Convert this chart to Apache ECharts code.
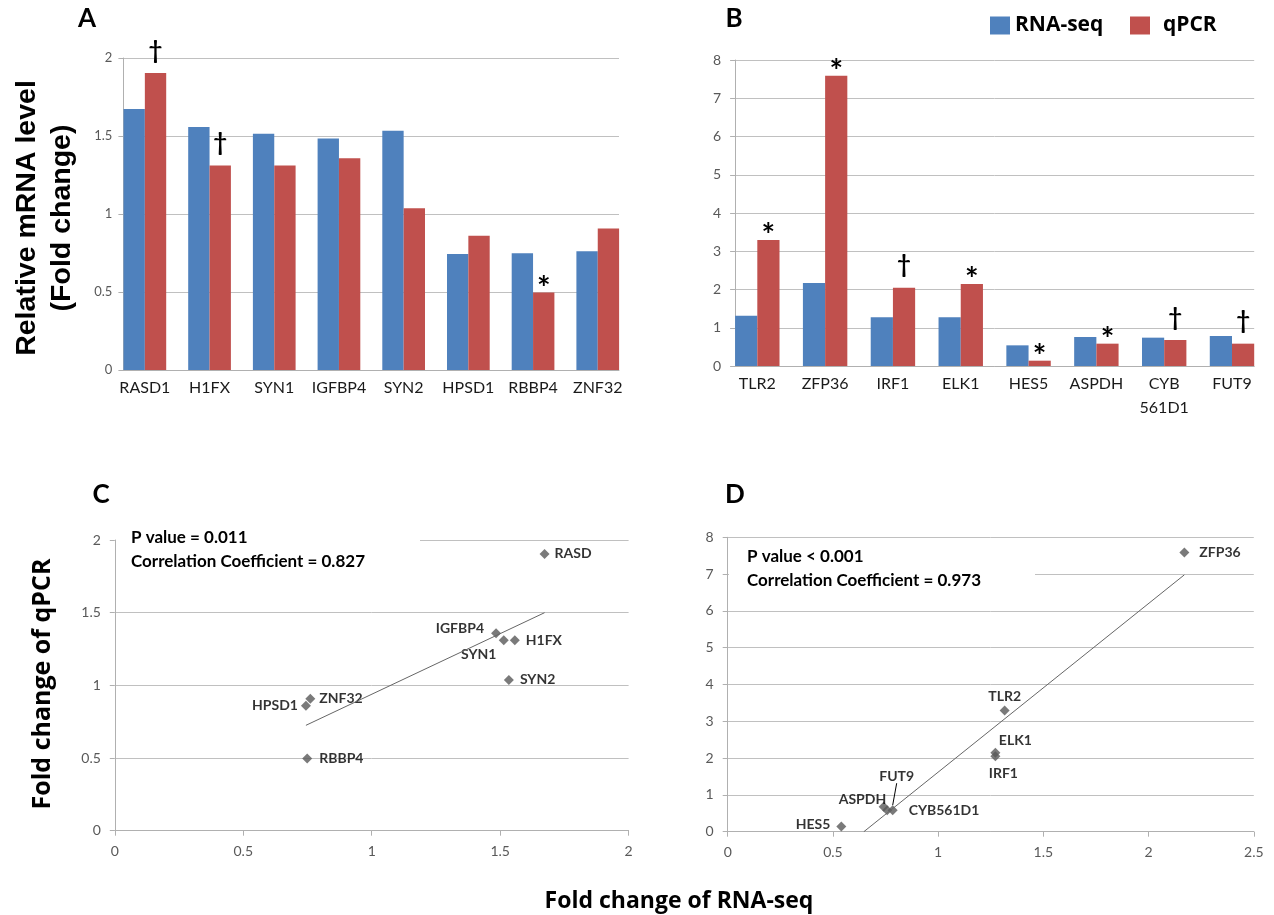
<!DOCTYPE html>
<html>
<head>
<meta charset="utf-8">
<title>RNA-seq vs qPCR</title>
<script src="https://cdn.jsdelivr.net/npm/echarts@6/dist/echarts.min.js"></script>
<style>
  html, body { margin: 0; padding: 0; background: #fff; }
  #main { width: 1274px; height: 915px; }
</style>
</head>
<body>
<div id="main"></div>
<script>
// ---- data ----
// panel A
var genesA = ['RASD1', 'H1FX', 'SYN1', 'IGFBP4', 'SYN2', 'HPSD1', 'RBBP4', 'ZNF32'];
var rnaSeqA = [1.673, 1.557, 1.514, 1.484, 1.534, 0.744, 0.749, 0.761];
var qpcrA = [1.904, 1.311, 1.311, 1.358, 1.037, 0.860, 0.496, 0.907];
var marksA = ['†', '†', '', '', '', '', '*', ''];
// panel B
var genesB = ['TLR2', 'ZFP36', 'IRF1', 'ELK1', 'HES5', 'ASPDH', 'CYB\n561D1', 'FUT9'];
var rnaSeqB = [1.316, 2.17, 1.272, 1.272, 0.540, 0.758, 0.741, 0.784];
var qpcrB = [3.294, 7.59, 2.048, 2.144, 0.139, 0.584, 0.680, 0.584];
var marksB = ['*', '*', '†', '*', '*', '*', '†', '†'];
// scatter point names (C uses A values, D uses B values)
var namesC = ['RASD', 'H1FX', 'SYN1', 'IGFBP4', 'SYN2', 'HPSD1', 'RBBP4', 'ZNF32'];
var namesD = ['TLR2', 'ZFP36', 'IRF1', 'ELK1', 'HES5', 'ASPDH', 'CYB561D1', 'FUT9'];
// trend line ends
var trendC = [[0.744, 0.725], [1.673, 1.5]];
var trendD = [[0.647, 0], [2.17, 6.98]];
var statsC = ['P value = 0.011', 'Correlation Coefficient = 0.827'];
var statsD = ['P value < 0.001', 'Correlation Coefficient = 0.973'];

// ---- styles ----
var BLUE = '#4F81BD', RED = '#C0504D', GRID = '#c0c0c0', AXIS = '#b0b0b0';
var TICKC = '#595959', FONT = 'Lato';

// where each scatter label sits next to its point
var labelC = {
  'RASD':   {position: 'right', distance: 5},
  'H1FX':   {position: 'right', distance: 6},
  'SYN1':   {position: 'bottom', distance: 2, offset: [-25, 0]},
  'IGFBP4': {position: 'left', distance: 7, offset: [0, -5]},
  'SYN2':   {position: 'right', distance: 6},
  'HPSD1':  {position: 'left', distance: 3},
  'RBBP4':  {position: 'right', distance: 7},
  'ZNF32':  {position: 'right', distance: 4}
};
// panel D uses labelLayout, so the shifts go through dx/dy
var labelD = {
  'TLR2':     {position: 'top', distance: 2},
  'ZFP36':    {position: 'right', distance: 10},
  'IRF1':     {position: 'bottom', distance: 5, dx: 8},
  'ELK1':     {position: 'top', distance: 0, dx: 20},
  'HES5':     {position: 'left', distance: 6, dy: -2},
  'ASPDH':    {position: 'left', distance: 0, dx: 4, dy: -11},
  'CYB561D1': {position: 'right', distance: 20, dy: 4},
  'FUT9':     {position: 'top', distance: 2, dx: 4, dy: -20}
};

// † / * over the qPCR bars
function markLabel(m) {
  if (!m) return {show: false};
  var star = m === '*';
  return {
    show: true,
    formatter: m,
    position: 'top',
    distance: 0,
    fontFamily: FONT,
    fontWeight: 'bold',
    fontSize: star ? 32 : 24,
    color: '#000',
    offset: star ? [0, 13] : [0, -10]
  };
}

function redData(vals, marks) {
  return vals.map(function (v, i) {
    return {value: v, label: markLabel(marks[i])};
  });
}

function scatterData(xs, ys, names, pos) {
  return xs.map(function (x, i) {
    var p = pos[names[i]];
    var lab = {show: true, position: p.position, distance: p.distance};
    if (p.offset) lab.offset = p.offset;
    var item = {name: names[i], value: [x, ys[i]], label: lab};
    if (names[i] === 'FUT9') item.labelLine = {show: true, lineStyle: {color: '#000', width: 1}};
    return item;
  });
}

// frame axes (left line + gridlines) of the bar panels
function frameY(max, interval, grid, fs, margin) {
  return {
    type: 'value', gridIndex: grid, min: 0, max: max, interval: interval,
    axisLine: {show: true, lineStyle: {color: AXIS}},
    axisTick: {show: true, length: 5, lineStyle: {color: AXIS}},
    axisLabel: {color: TICKC, fontFamily: FONT, fontSize: fs, margin: margin},
    splitLine: {show: true, lineStyle: {color: GRID}}
  };
}
function frameX(grid) {
  return {
    type: 'value', gridIndex: grid, min: 0, max: 1,
    axisLine: {show: true, onZero: false, lineStyle: {color: AXIS}},
    axisTick: {show: false}, axisLabel: {show: false}, splitLine: {show: false}
  };
}
function catX(grid, cats) {
  return {
    type: 'category', gridIndex: grid, data: cats,
    axisLine: {show: false}, axisTick: {show: false},
    axisLabel: {color: '#1a1a1a', fontFamily: FONT, fontSize: 16, margin: 6, lineHeight: 24, interval: 0}
  };
}
function hiddenY(max, grid) {
  return {type: 'value', gridIndex: grid, min: 0, max: max, show: false};
}
function valX(max, grid) {
  return {
    type: 'value', gridIndex: grid, min: 0, max: max, interval: 0.5,
    axisLine: {show: true, onZero: false, lineStyle: {color: AXIS}},
    axisTick: {show: true, length: 5, lineStyle: {color: AXIS}},
    axisLabel: {color: TICKC, fontFamily: FONT, fontSize: 14, margin: 14},
    splitLine: {show: false}
  };
}

var scatterLabelStyle = {formatter: '{b}', fontFamily: FONT, fontWeight: 'bold', fontSize: 14, color: '#000'};
var legendText = {fontFamily: 'Open Sans', fontWeight: 'bold', fontSize: 21, color: '#000'};

var chart = echarts.init(document.getElementById('main'));
chart.setOption({
  animation: false,
  backgroundColor: '#fff',
  legend: [
    {data: ['RNA-seq'], left: 990, top: 15, padding: 0, itemWidth: 20, itemHeight: 18, icon: 'rect',
     selectedMode: false, textStyle: legendText},
    {data: ['qPCR'], left: 1130, top: 15, padding: 0, itemWidth: 20, itemHeight: 18, icon: 'rect',
     selectedMode: false, textStyle: Object.assign({padding: [0, 0, 0, 8]}, legendText)}
  ],
  grid: [
    {left: 123.4, top: 58, width: 495.6, height: 312},     // A frame
    {left: 112.5, top: 58, width: 517.6, height: 312},     // A bars
    {left: 735.1, top: 60, width: 519.1, height: 306},     // B frame
    {left: 723.4, top: 60, width: 542.5, height: 306},     // B bars
    {left: 114.8, top: 540, width: 513.8, height: 290.7},  // C
    {left: 727.7, top: 537.3, width: 526.1, height: 294.4} // D
  ],
  xAxis: [
    frameX(0), catX(1, genesA),
    frameX(2), catX(3, genesB),
    valX(2, 4), valX(2.5, 5)
  ],
  yAxis: [
    frameY(2, 0.5, 0, 13, 11),
    hiddenY(2, 1),
    frameY(8, 1, 2, 14, 14),
    hiddenY(8, 3),
    frameY(2, 0.5, 4, 14, 14),
    frameY(8, 1, 5, 14, 14)
  ],
  series: [
    {name: 'RNA-seq', type: 'bar', xAxisIndex: 1, yAxisIndex: 1, data: rnaSeqA,
     itemStyle: {color: BLUE}, barGap: '0%', barCategoryGap: '34%'},
    {name: 'qPCR', type: 'bar', xAxisIndex: 1, yAxisIndex: 1, data: redData(qpcrA, marksA),
     itemStyle: {color: RED}, barGap: '0%', barCategoryGap: '34%'},
    {name: 'RNA-seq', type: 'bar', xAxisIndex: 3, yAxisIndex: 3, data: rnaSeqB,
     itemStyle: {color: BLUE}, barGap: '0%', barCategoryGap: '34.5%'},
    {name: 'qPCR', type: 'bar', xAxisIndex: 3, yAxisIndex: 3, data: redData(qpcrB, marksB),
     itemStyle: {color: RED}, barGap: '0%', barCategoryGap: '34.5%'},
    // C: scatter + trend
    {type: 'line', xAxisIndex: 4, yAxisIndex: 4, data: trendC, symbol: 'none', clip: true,
     lineStyle: {color: '#666', width: 1}, silent: true},
    {type: 'scatter', xAxisIndex: 4, yAxisIndex: 4, symbol: 'diamond', symbolSize: 10,
     itemStyle: {color: '#595959'}, label: scatterLabelStyle,
     data: scatterData(rnaSeqA, qpcrA, namesC, labelC)},
    // D: scatter + trend
    {type: 'line', xAxisIndex: 5, yAxisIndex: 5, data: trendD, symbol: 'none', clip: true,
     lineStyle: {color: '#666', width: 1}, silent: true},
    {type: 'scatter', xAxisIndex: 5, yAxisIndex: 5, symbol: 'diamond', symbolSize: 10,
     itemStyle: {color: '#595959'}, label: scatterLabelStyle,
     labelLayout: function (p) {
       var s = labelD[namesD[p.dataIndex]];
       return {dx: s.dx || 0, dy: s.dy || 0};
     },
     data: scatterData(rnaSeqB, qpcrB, namesD, labelD)}
  ],
  graphic: [
    // panel letters
    {type: 'text', x: 87, y: 19, style: {text: 'A', font: 'bold 26px Lato', fill: '#000', align: 'center', verticalAlign: 'middle'}},
    {type: 'text', x: 734, y: 19, style: {text: 'B', font: 'bold 26px Lato', fill: '#000', align: 'center', verticalAlign: 'middle'}},
    {type: 'text', x: 101, y: 495, style: {text: 'C', font: 'bold 26px Lato', fill: '#000', align: 'center', verticalAlign: 'middle'}},
    {type: 'text', x: 735, y: 495, style: {text: 'D', font: 'bold 26px Lato', fill: '#000', align: 'center', verticalAlign: 'middle'}},
    // axis titles
    {type: 'text', x: 45, y: 218, rotation: Math.PI / 2,
     style: {text: 'Relative mRNA level\n(Fold change)', font: 'bold 28.5px "Liberation Sans"', lineHeight: 35,
             fill: '#000', align: 'center', verticalAlign: 'middle'}},
    {type: 'text', x: 43, y: 684, rotation: Math.PI / 2,
     style: {text: 'Fold change of qPCR', font: 'bold 25px "Open Sans"', fill: '#000', align: 'center', verticalAlign: 'middle'}},
    {type: 'text', x: 679, y: 901,
     style: {text: 'Fold change of RNA-seq', font: 'bold 23px "Open Sans"', fill: '#000', align: 'center', verticalAlign: 'middle'}},
    // stat boxes (white box hides the gridline behind)
    {type: 'rect', z: 10, shape: {x: 116, y: 525, width: 304, height: 50}, style: {fill: '#fff'}},
    {type: 'text', z: 11, x: 131, y: 526,
     style: {text: statsC.join('\n'), font: 'bold 17px Lato', lineHeight: 24, fill: '#000'}},
    {type: 'rect', z: 10, shape: {x: 729, y: 545, width: 306, height: 50}, style: {fill: '#fff'}},
    {type: 'text', z: 11, x: 747, y: 545,
     style: {text: statsD.join('\n'), font: 'bold 17px Lato', lineHeight: 24, fill: '#000'}}
  ]
});
</script>
</body>
</html>
